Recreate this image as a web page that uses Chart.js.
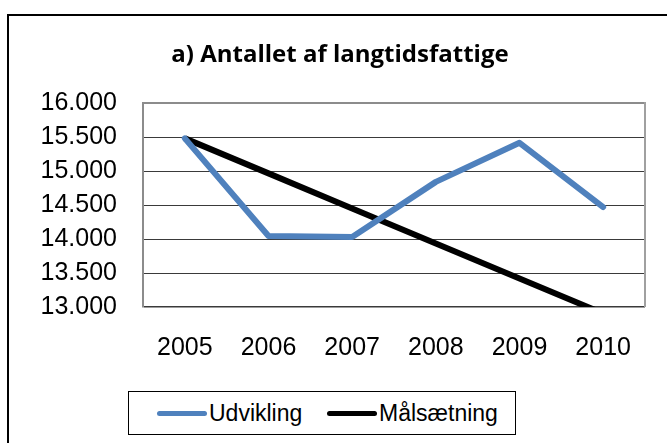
<!DOCTYPE html>
<html>
<head>
<meta charset="utf-8">
<script src="https://cdn.jsdelivr.net/npm/chart.js@4/dist/chart.umd.min.js"></script>
<style>
  html, body { margin: 0; padding: 0; background: #fff; overflow: hidden; }
  body { width: 667px; height: 443px; position: relative; }
  #frame { position: absolute; left: 7px; top: 14px; width: 720px; height: 520px;
           border-left: 2px solid #000; border-top: 2px solid #000; box-sizing: border-box; }
  #wrap { position: absolute; left: 35px; top: 0; width: 632px; height: 390px; }
  #legend { position: absolute; left: 128px; top: 391px; width: 388px; height: 44px;
            border: 1px solid #000; box-sizing: border-box; background: #fff;
            font-family: "Liberation Sans", Arial, sans-serif; font-size: 23px; color: #000; }
  .item { position: absolute; top: 0; height: 42px; display: flex; align-items: center; }
  .swatch { width: 50px; height: 5px; border-radius: 3px; margin-right: 2px; }
</style>
</head>
<body>
<div id="frame"></div>
<div id="wrap"><canvas id="c"></canvas></div>
<div id="legend"></div>
<script>
const years = ['2005', '2006', '2007', '2008', '2009', '2010'];
const udvikling = [15480, 14045, 14030, 14840, 15415, 14470];
const maalsaetning = [15480, 14965, 14450, 13935, 13420, 12905];
const seriesNames = ['Udvikling', 'Målsætning'];
const seriesColors = ['#4f81bd', '#000000'];
const yMin = 13000, yMax = 16000, yStep = 500;
const titleText = 'a) Antallet af langtidsfattige';

function fmt(v) {
  const th = Math.floor(v / 1000);
  const rest = String(Math.round(v % 1000)).padStart(3, '0');
  return th + '.' + rest;
}

const rightBorder = {
  id: 'rightBorder',
  beforeDatasetsDraw(chart) {
    const a = chart.chartArea, ctx = chart.ctx;
    ctx.save();
    ctx.strokeStyle = '#a0a0a0';
    ctx.lineWidth = 2;
    ctx.beginPath();
    ctx.moveTo(a.right, a.top - 1);
    ctx.lineTo(a.right, a.bottom);
    ctx.stroke();
    ctx.restore();
  }
};

const chart = new Chart(document.getElementById('c'), {
  type: 'line',
  data: {
    labels: years,
    datasets: [
      { label: seriesNames[0], data: udvikling, borderColor: seriesColors[0], backgroundColor: seriesColors[0],
        borderWidth: 6, pointRadius: 0, tension: 0, borderCapStyle: 'round', borderJoinStyle: 'round', clip: 0 },
      { label: seriesNames[1], data: maalsaetning, borderColor: seriesColors[1], backgroundColor: seriesColors[1],
        borderWidth: 6, pointRadius: 0, tension: 0, borderCapStyle: 'butt', borderJoinStyle: 'round', clip: 0 }
    ]
  },
  options: {
    responsive: true,
    maintainAspectRatio: false,
    animation: false,
    events: [],
    layout: { padding: { left: 0, right: 22, top: 0, bottom: 0 } },
    plugins: {
      legend: { display: false },
      tooltip: { enabled: false },
      title: {
        display: true,
        text: titleText,
        color: '#000',
        font: { family: 'Open Sans', size: 24, weight: 'bold' },
        padding: { top: 41, bottom: 33.2 }
      }
    },
    scales: {
      x: {
        offset: true,
        grid: { display: false, drawTicks: false },
        border: { display: false },
        ticks: { color: '#000', padding: 26, font: { family: 'Liberation Sans', size: 25 }, maxRotation: 0 },
        afterFit(s) { s.height = 83; }
      },
      y: {
        min: yMin, max: yMax,
        ticks: { stepSize: yStep, color: '#000', padding: 26,
                 font: { family: 'Liberation Sans', size: 25 },
                 callback: (v) => fmt(v) },
        grid: {
          drawTicks: false,
          color: (c) => c.tick && c.tick.value === yMax ? '#8c8c8c' : '#3a3a3a',
          lineWidth: (c) => c.tick && c.tick.value === yMax ? 2 : (c.tick && c.tick.value === yMin ? 1.5 : 1)
        },
        border: { display: true, color: '#8c8c8c', width: 2 },
        afterFit(s) { s.width = 108; }
      }
    }
  },
  plugins: [rightBorder]
});

const legendEl = document.getElementById('legend');
const lefts = [28, 198];
chart.data.datasets.forEach((ds, i) => {
  const item = document.createElement('div');
  item.className = 'item';
  item.style.left = lefts[i] + 'px';
  const sw = document.createElement('span');
  sw.className = 'swatch';
  sw.style.background = ds.borderColor;
  const tx = document.createElement('span');
  tx.textContent = ds.label;
  item.appendChild(sw);
  item.appendChild(tx);
  legendEl.appendChild(item);
});
</script>
</body>
</html>
